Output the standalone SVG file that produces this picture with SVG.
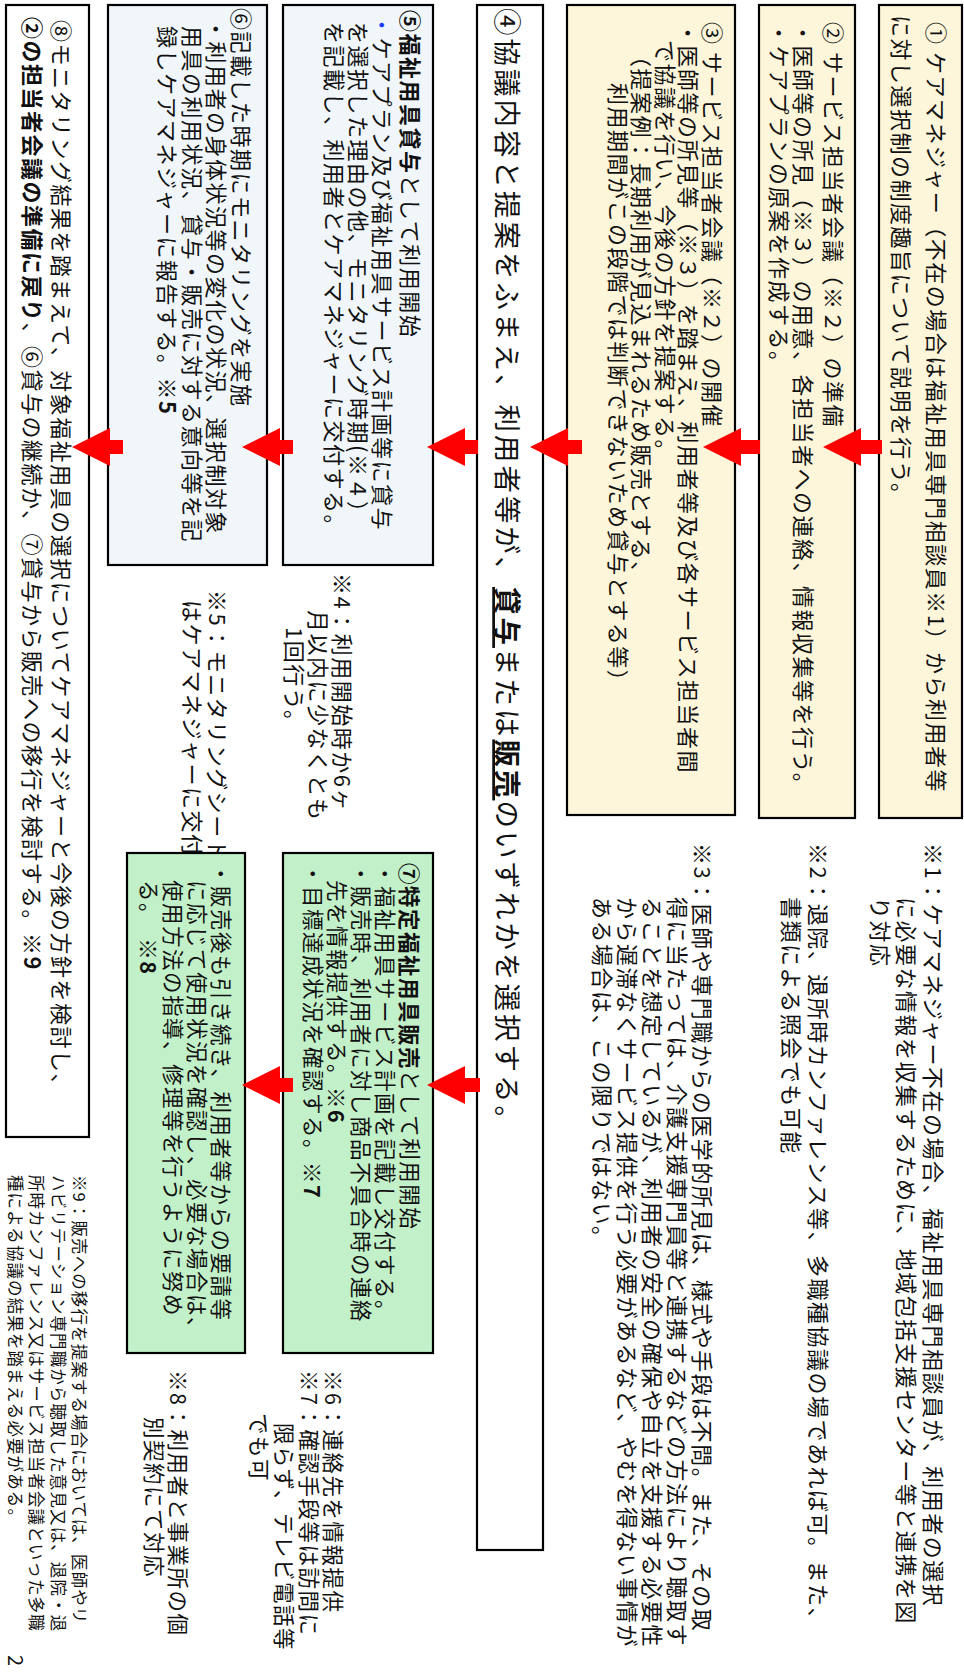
<svg xmlns="http://www.w3.org/2000/svg" width="964" height="1672" viewBox="0 0 964 1672">
<style>
text { font-family: "Noto Sans CJK JP", "Noto Sans", sans-serif; font-size: 22px; letter-spacing: 1.5px; fill: #111; dominant-baseline: central; }
.b { font-weight: bold; }
.big { font-size: 27.5px; letter-spacing: 3px; }
.g7 { font-size: 21.5px; letter-spacing: 1.5px; }
.sm { font-size: 16.5px; letter-spacing: 1.1px; }
.box { stroke: #000; stroke-width: 2.2; }
.y { fill: #FEF6DA; }
.bl { fill: #F0F6FA; }
.g { fill: #C2F0C8; }
.w { fill: #FFFFFF; }
.arrow { fill: #FF0000; }
</style>
<rect width="964" height="1672" fill="#FFFFFF"/>
<g transform="translate(964,0) rotate(90)">
  <g id="node1">
    <rect class="box y" x="5" y="2" width="813" height="83"/>
    <text x="22" y="26">① ケアマネジャー（不在の場合は福祉用具専門相談員※1）から利用者等</text>
    <text x="15" y="61">に対し選択制の制度趣旨について説明を行う。</text>
  </g>
  <g id="node2">
    <rect class="box y" x="5" y="109" width="813" height="96"/>
    <text x="22" y="129">② サービス担当者会議（※２）の準備</text>
    <text x="22" y="159">・医師等の所見（※３）の用意、各担当者への連絡、情報収集等を行う。</text>
    <text x="22" y="183">・ケアプランの原案を作成する。</text>
  </g>
  <g id="node3">
    <rect class="box y" x="5" y="229" width="810" height="168"/>
    <text x="22" y="250">③ サービス担当者会議（※２）の開催</text>
    <text x="22" y="274">・医師等の所見等（※３）を踏まえ、利用者等及び各サービス担当者間</text>
    <text x="40" y="297">で協議を行い、今後の方針を提案する。</text>
    <text x="45" y="321">（提案例：長期利用が見込まれるため販売とする、</text>
    <text x="83" y="344">利用期間がこの段階では判断できないため貸与とする等）</text>
  </g>
  <g id="node4">
    <rect class="box w" x="5" y="421" width="1545" height="66"/>
    <text class="big" x="8" y="455">④協議内容と提案をふまえ、利用者等が、<tspan class="b" text-decoration="underline">貸与</tspan>または<tspan class="b" text-decoration="underline">販売</tspan>のいずれかを選択する。</text>
  </g>
  <g id="node5">
    <rect class="box bl" x="5" y="531" width="560" height="150"/>
    <text x="10" y="552"><tspan class="b">⑤福祉用具貸与</tspan>として利用開始</text>
    <text x="14" y="580"><tspan fill="#1a3cff">・</tspan>ケアプラン及び福祉用具サービス計画等に貸与</text>
    <text x="22" y="604">を選択した理由の他、モニタリング時期(※４）</text>
    <text x="22" y="628">を記載し、利用者とケアマネジャーに交付する。</text>
  </g>
  <g id="node6">
    <rect class="box bl" x="5" y="697" width="560" height="159"/>
    <text x="8" y="721">⑥記載した時期にモニタリングを実施</text>
    <text x="18" y="746">・利用者の身体状況等の変化の状況、選択制対象</text>
    <text x="26" y="770">用具の利用状況、貸与・販売に対する意向等を記</text>
    <text x="26" y="795">録しケアマネジャーに報告する。<tspan class="b">※5</tspan></text>
  </g>
  <g id="node8">
    <rect class="box w" x="5" y="875" width="1132" height="83"/>
    <text x="20" y="901">⑧モニタリング結果を踏まえて、対象福祉用具の選択についてケアマネジャーと今後の方針を検討し、</text>
    <text x="17" y="930"><tspan class="b">②の担当者会議の準備に戻り</tspan>、⑥貸与の継続か、⑦貸与から販売への移行を検討する。<tspan class="b">※9</tspan></text>
  </g>
  <g id="notes-top">
    <text x="843" y="29">※1：ケアマネジャー不在の場合、福祉用具専門相談員が、利用者の選択</text>
    <text x="897" y="56">に必要な情報を収集するために、地域包括支援センター等と連携を図</text>
    <text x="897" y="82">り対応</text>
    <text x="843" y="144">※2：退院、退所時カンファレンス等、多職種協議の場であれば可。また、</text>
    <text x="897" y="171">書類による照会でも可能</text>
    <text x="843" y="260">※3：医師や専門職からの医学的所見は、様式や手段は不問。また、その取</text>
    <text x="897" y="285">得に当たっては、介護支援専門員等と連携するなどの方法により聴取す</text>
    <text x="897" y="310">ることを想定しているが、利用者の安全の確保や自立を支援する必要性</text>
    <text x="897" y="335">から遅滞なくサービス提供を行う必要があるなど、やむを得ない事情が</text>
    <text x="897" y="360">ある場合は、この限りではない。</text>
  </g>
  <g id="notes-mid">
    <text x="573" y="620">※4：利用開始時か6ヶ</text>
    <text x="610" y="644">月以内に少なくとも</text>
    <text x="627" y="668">1回行う。</text>
    <text x="590" y="745">※5：モニタリングシート</text>
    <text x="600" y="770">はケアマネジャーに交付</text>
  </g>
  <g id="node7">
    <rect class="box g" x="853" y="531" width="500" height="150"/>
    <text class="g7" x="863" y="553"><tspan class="b">⑦特定福祉用具販売</tspan>として利用開始</text>
    <text class="g7" x="863" y="578">・福祉用具サービス計画を記載し交付する。</text>
    <text class="g7" x="863" y="602">・販売時、利用者に対し商品不具合時の連絡</text>
    <text class="g7" x="880" y="626">先を情報提供する。<tspan class="b">※6</tspan></text>
    <text class="g7" x="863" y="650">・目標達成状況を確認する。<tspan class="b">※7</tspan></text>
  </g>
  <g id="node7b">
    <rect class="box g" x="853" y="719" width="500" height="118"/>
    <text class="g7" x="863" y="742">・販売後も引き続き、利用者等からの要請等</text>
    <text class="g7" x="880" y="766">に応じて使用状況を確認し、必要な場合は、</text>
    <text class="g7" x="880" y="790">使用方法の指導、修理等を行うように努め</text>
    <text class="g7" x="880" y="814">る。　<tspan class="b">※8</tspan></text>
  </g>
  <g id="notes-bottom">
    <text class="g7" x="1370" y="630">※6：連絡先を情報提供</text>
    <text class="g7" x="1370" y="654">※7：確認手段等は訪問に</text>
    <text class="g7" x="1423" y="679">限らず、テレビ電話等</text>
    <text class="g7" x="1413" y="704">でも可</text>
    <text class="g7" x="1370" y="785">※8：利用者と事業所の個</text>
    <text class="g7" x="1417" y="809">別契約にて対応</text>
    <text class="sm" x="1175" y="884">※9：販売への移行を提案する場合においては、医師やリ</text>
    <text class="sm" x="1175" y="905">ハビリテーション専門職から聴取した意見又は、退院・退</text>
    <text class="sm" x="1175" y="927">所時カンファレンス又はサービス担当者会議といった多職</text>
    <text class="sm" x="1175" y="948">種による協議の結果を踏まえる必要がある。</text>
    <text x="1655" y="948" style="font-size:20px">2</text>
  </g>
  <g id="connectors">
    <polygon class="arrow" points="440,82 454,82 454,103 466,103 447,141 428,103 440,103"/>
    <polygon class="arrow" points="440,204 454,204 454,223 466,223 447,261 428,223 440,223"/>
    <polygon class="arrow" points="440,382 454,382 454,396 466,396 447,434 428,396 440,396"/>
    <polygon class="arrow" points="440,486 454,486 454,499 466,499 447,537 428,499 440,499"/>
    <polygon class="arrow" points="440,671 454,671 454,684 466,684 447,722 428,684 440,684"/>
    <polygon class="arrow" points="440,841 454,841 454,854 466,854 447,892 428,854 440,854"/>
    <polygon class="arrow" points="1078,484 1092,484 1092,499 1104,499 1085,537 1066,499 1078,499"/>
    <polygon class="arrow" points="1078,671 1092,671 1092,684 1104,684 1085,722 1066,684 1078,684"/>
  </g>
</g>
</svg>
